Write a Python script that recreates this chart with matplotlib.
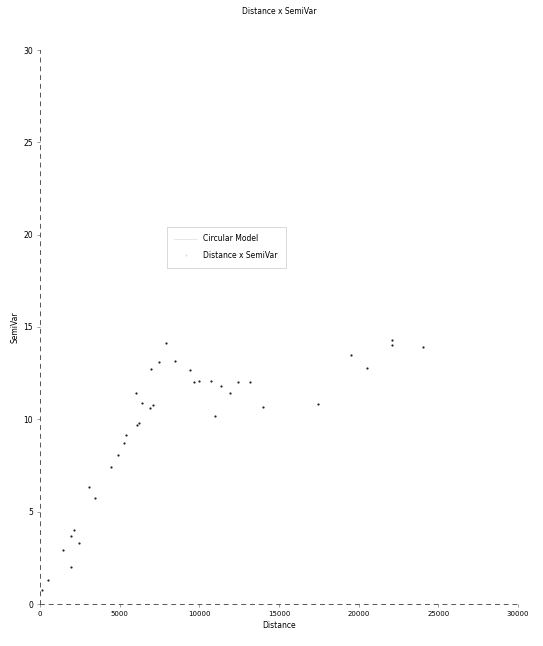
import numpy as np
import matplotlib
matplotlib.use('Agg')
import matplotlib.pyplot as plt
from matplotlib.lines import Line2D

# lag distance / semivariance pairs
distance = [120, 502, 1463, 1946, 1965, 2134, 2467, 3057, 3434, 4438,
            4915, 5292, 5417, 6045, 6108, 6196, 6403, 6905, 6950, 7075,
            7470, 7910, 8456, 9416, 9667, 10000, 10734, 10967, 11362, 11946,
            12448, 13183, 13980, 17470, 19542, 20527, 22078, 22115, 24043]
semivar = [0.75, 1.28, 2.91, 2.02, 3.70, 4.03, 3.31, 6.36, 5.76, 7.44,
           8.09, 8.73, 9.14, 11.45, 9.69, 9.79, 10.91, 10.59, 12.74, 10.77,
           13.08, 14.11, 13.17, 12.68, 12.02, 12.05, 12.05, 10.18, 11.83, 11.42,
           12.02, 12.02, 10.66, 10.84, 13.46, 12.79, 14.05, 14.27, 13.89]

x_ticks = [0, 5000, 10000, 15000, 20000, 25000, 30000]
y_ticks = [0, 5, 10, 15, 20, 25, 30]

plt.rcParams['font.family'] = 'DejaVu Sans'
fig = plt.figure(figsize=(5.43, 6.46), dpi=100)
ax = fig.add_axes([40/543, 42/646, 478/543, 554/646])

ax.scatter(distance, semivar, s=2.5, color='#222222', linewidths=0, zorder=3)

ax.set_xlim(0, 30000)
ax.set_ylim(0, 30)
ax.set_xticks(x_ticks)
ax.set_yticks(y_ticks)
ax.set_xticklabels([str(v) for v in x_ticks], fontsize=5)
ax.set_yticklabels([str(v) for v in y_ticks], fontsize=5.5)
ax.tick_params(length=2, width=0.5, color='#777777', pad=3)

for side in ['top', 'right']:
    ax.spines[side].set_visible(False)
for side in ['left', 'bottom']:
    ax.spines[side].set_color('#555555')
    ax.spines[side].set_linewidth(0.7)
    ax.spines[side].set_linestyle((0, (4, 5)))

ax.set_title('Distance x SemiVar', fontsize=5.5, pad=26)
ax.set_xlabel('Distance', fontsize=5.5, labelpad=3)
ax.set_ylabel('SemiVar', fontsize=5.5, labelpad=3)

handles = [Line2D([], [], color='#dddddd', lw=0.5),
           Line2D([], [], color='#dddddd', lw=0, marker='.', markersize=1)]
leg = ax.legend(handles, ['Circular Model', 'Distance x SemiVar'],
                loc='upper left', bbox_to_anchor=(163/543, 1 - 223/646),
                bbox_transform=fig.transFigure, fontsize=5.5,
                frameon=True, fancybox=False, handlelength=3,
                borderpad=1.0, labelspacing=1.0)
leg.get_frame().set_edgecolor('#bbbbbb')
leg.get_frame().set_linewidth(0.5)

fig.savefig('out.png', dpi=100)
